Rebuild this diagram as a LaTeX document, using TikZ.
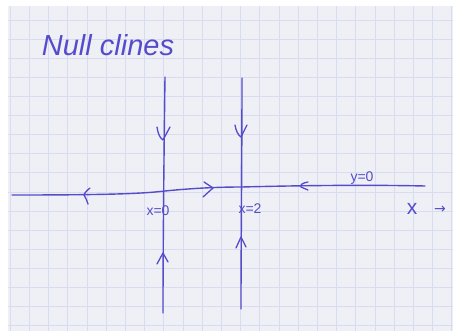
\documentclass[tikz,border=0pt]{standalone}
\usepackage{fontspec}
\setmainfont{Liberation Sans}
\newfontfamily\symfont{DejaVu Sans}
\definecolor{ink}{RGB}{86,76,202}
\definecolor{paper}{RGB}{238,240,246}
\definecolor{gridc}{RGB}{216,220,240}
\begin{document}
\begin{tikzpicture}[x=1pt,y=-1pt,
  pen/.style={draw=ink,line width=1.4pt,line cap=round,line join=round},
  chev/.style={draw=ink,line width=1.3pt,line cap=round,line join=round},
  gridline/.style={draw=gridc,line width=0.6pt},
  lbl/.style={text=ink,inner sep=0pt,font=\fontsize{14}{14}\selectfont}]
\useasboundingbox (0,0) rectangle (453,331);
\fill[white] (0,0) rectangle (453,331);
\fill[paper] (8,6) rectangle (453,331);
\foreach \i in {0,...,23} \draw[gridline] ({10+19.2*\i},6) -- ({10+19.2*\i},331);
\foreach \j in {0,...,16} \draw[gridline] (8,{20+19.1*\j}) -- (453,{20+19.1*\j});

% title
\node[text=ink,inner sep=0pt,font=\fontsize{29}{29}\selectfont\itshape] (title) at (108,45) {Null clines};

% endpoints
\coordinate (v1t) at (165,77);
\coordinate (v1b) at (163,313);
\coordinate (v2t) at (242,78);
\coordinate (v2b) at (241,309);
\coordinate (hl) at (12,195);
\coordinate (hr) at (425,186);

% nullclines
\draw[pen] (v1t) .. controls (164,150) and (163,250) .. (v1b);
\draw[pen] (v2t) .. controls (242,150) and (241,250) .. (v2b);
\draw[pen] (hl) .. controls (100,195) and (140,194) .. (165,191)
  .. controls (195,188) and (220,187) .. (242,187)
  .. controls (320,185) and (380,185) .. (hr);

% arrows on the horizontal line
\draw[chev] (90,188) .. controls (86,191) and (84,194) .. (84,195) .. controls (86,198) and (87,201) .. (88,204);
\draw[chev] (204,182) -- (213,188) -- (203,197);
\draw[chev] (308,182) .. controls (302,183) and (300,185) .. (301,187) -- (308,190);

% arrows on the vertical lines
\draw[chev] (157,127) .. controls (158,134) and (160,138) .. (163,140) -- (170,127);
\draw[chev] (235,125) .. controls (236,131) and (238,135) .. (241,137) -- (247,125);
\draw[chev] (157,264) -- (163,253) -- (168,262);
\draw[chev] (236,248) -- (241,237) -- (246,247);

% labels
\node[lbl] (lx0) at (158,211) {x=0};
\node[lbl] (lx2) at (250,209) {x=2};
\node[lbl] (ly0) at (362,178) {y=0};
\node[text=ink,inner sep=0pt,font=\fontsize{21}{21}\selectfont] (lx) at (412,209) {x};
\node[text=ink,inner sep=0pt,font=\symfont\fontsize{14}{14}\selectfont] (lar) at (440,210) {→};
\end{tikzpicture}
\end{document}
